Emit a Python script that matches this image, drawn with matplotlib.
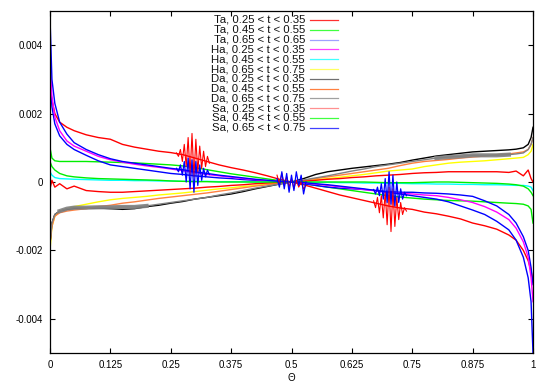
"""
Anisotropy curves vs Theta for Ta / Ha / Da / Sa in three t-windows
(gnuplot-like look). Values in units of 1e-3, read off the reference.

Output: out.png
"""

import matplotlib
matplotlib.use("Agg")
import matplotlib.pyplot as plt
import numpy as np
from matplotlib.lines import Line2D

plt.rcParams["font.family"] = ["Liberation Sans", "DejaVu Sans"]

SCALE = 1e-3

THETA = [0, 0.004, 0.01, 0.02, 0.035, 0.05, 0.075, 0.1,
         0.125, 0.15, 0.175, 0.2, 0.225, 0.25, 0.275, 0.3, 0.325, 0.35, 0.375, 0.4, 0.425, 0.45, 0.475,
         0.5,
         0.525, 0.55, 0.575, 0.6, 0.625, 0.65, 0.675, 0.7, 0.725, 0.75, 0.775, 0.8, 0.825, 0.85, 0.875, 0.9,
         0.925, 0.95, 0.965, 0.98, 0.99, 0.996, 1]

TA_25 = [2.8, 2.4, 2.0, 1.75, 1.6, 1.5, 1.38, 1.3,
         1.25, 1.1, 1.02, 0.96, 0.9, 0.86, 0.8, 0.7, 0.6, 0.5, 0.42, 0.35, 0.27, 0.18, 0.08,
         0.0,
         -0.08, -0.18, -0.28, -0.38, -0.46, -0.54, -0.62, -0.7, -0.76, -0.8, -0.88, -0.93, -1.0, -1.08, -1.2, -1.28,
         -1.38, -1.55, -1.7, -2.0, -2.3, -2.6, -2.9]
TA_45 = [1.0, 0.7, 0.62, 0.6, 0.6, 0.6, 0.6, 0.59,
         0.58, 0.57, 0.56, 0.54, 0.52, 0.5, 0.47, 0.42, 0.36, 0.3, 0.24, 0.19, 0.14, 0.09, 0.04,
         0.0,
         -0.05, -0.1, -0.15, -0.2, -0.25, -0.3, -0.35, -0.4, -0.44, -0.47, -0.5, -0.52, -0.54, -0.55, -0.56, -0.58,
         -0.6, -0.62, -0.63, -0.65, -0.7, -0.8, -1.2]
TA_65 = [3.0, 2.2, 1.7, 1.35, 1.1, 0.95, 0.78, 0.62,
         0.5, 0.45, 0.4, 0.35, 0.3, 0.25, 0.22, 0.18, 0.15, 0.12, 0.1, 0.07, 0.05, 0.03, 0.01,
         0.0,
         -0.05, -0.1, -0.15, -0.18, -0.2, -0.22, -0.25, -0.28, -0.3, -0.3, -0.32, -0.33, -0.35, -0.38, -0.42, -0.55,
         -0.7, -0.95, -1.2, -1.6, -2.0, -2.5, -3.0]
HA_25 = [3.5, 2.5, 1.9, 1.5, 1.2, 1.05, 0.9, 0.75,
         0.65, 0.58, 0.52, 0.47, 0.43, 0.38, 0.33, 0.28, 0.22, 0.18, 0.14, 0.1, 0.07, 0.04, 0.02,
         0.0,
         -0.03, -0.06, -0.1, -0.14, -0.18, -0.22, -0.26, -0.3, -0.33, -0.35, -0.38, -0.4, -0.45, -0.52, -0.6, -0.72,
         -0.88, -1.1, -1.35, -1.75, -2.2, -2.8, -3.5]
HA_45 = [0.3, 0.2, 0.13, 0.1, 0.09, 0.08, 0.07, 0.06,
         0.05, 0.05, 0.04, 0.04, 0.03, 0.03, 0.02, 0.02, 0.02, 0.01, 0.01, 0.01, 0.0, 0.0, 0.0,
         0.0,
         0.0, -0.01, -0.01, -0.02, -0.02, -0.03, -0.03, -0.04, -0.04, -0.05, -0.05, -0.06, -0.06, -0.07, -0.07, -0.08,
         -0.08, -0.09, -0.1, -0.1, -0.12, -0.15, -0.25]
HA_65 = [-2.0, -1.3, -1.0, -0.85, -0.78, -0.72, -0.65, -0.58,
         -0.52, -0.48, -0.45, -0.42, -0.38, -0.35, -0.32, -0.28, -0.24, -0.2, -0.17, -0.13, -0.1, -0.06, -0.03,
         0.0,
         0.03, 0.07, 0.1, 0.14, 0.18, 0.22, 0.27, 0.32, 0.35, 0.38, 0.45, 0.5, 0.55, 0.58, 0.6, 0.62,
         0.65, 0.68, 0.7, 0.72, 0.8, 0.9, 1.1]
DA_25 = [-1.8, -1.2, -0.95, -0.85, -0.8, -0.78, -0.77, -0.76,
         -0.78, -0.8, -0.78, -0.72, -0.68, -0.62, -0.57, -0.5, -0.45, -0.4, -0.35, -0.28, -0.2, -0.13, -0.06,
         0.0,
         0.1, 0.22, 0.3, 0.35, 0.4, 0.44, 0.48, 0.52, 0.57, 0.64, 0.7, 0.76, 0.8, 0.84, 0.88, 0.9,
         0.92, 0.94, 0.96, 1.0, 1.1, 1.3, 1.6]
DA_45 = [-1.8, -1.3, -1.0, -0.9, -0.85, -0.82, -0.78, -0.72,
         -0.68, -0.62, -0.58, -0.53, -0.48, -0.44, -0.4, -0.36, -0.32, -0.27, -0.22, -0.17, -0.12, -0.08, -0.04,
         0.0,
         0.05, 0.1, 0.15, 0.2, 0.25, 0.3, 0.35, 0.4, 0.48, 0.55, 0.6, 0.63, 0.66, 0.7, 0.73, 0.76,
         0.8, 0.82, 0.85, 0.88, 0.95, 1.1, 1.3]
DA_65 = [-1.8, -1.2, -0.95, -0.85, -0.78, -0.75, -0.75, -0.74,
         -0.74, -0.73, -0.73, -0.7, -0.65, -0.6, -0.55, -0.5, -0.45, -0.38, -0.32, -0.25, -0.18, -0.12, -0.06,
         0.0,
         0.06, 0.12, 0.18, 0.25, 0.32, 0.38, 0.45, 0.5, 0.55, 0.6, 0.65, 0.7, 0.73, 0.75, 0.78, 0.78,
         0.78, 0.8, 0.82, 0.85, 0.95, 1.1, 1.3]
SA_25 = [-0.2, 0.05, -0.15, -0.05, -0.2, -0.12, -0.25, -0.28,
         -0.3, -0.3, -0.28, -0.26, -0.24, -0.22, -0.2, -0.18, -0.15, -0.13, -0.1, -0.08, -0.05, -0.03, -0.01,
         0.0,
         0.02, 0.05, 0.08, 0.1, 0.13, 0.15, 0.18, 0.2, 0.22, 0.25, 0.27, 0.28, 0.3, 0.3, 0.3, 0.3,
         0.3, 0.28, 0.32, 0.18, 0.35, 0.1, 0.0]
SA_45 = [0.6, 0.45, 0.35, 0.25, 0.18, 0.15, 0.12, 0.1,
         0.09, 0.08, 0.07, 0.06, 0.05, 0.03, 0.02, 0.01, 0.01, 0.0, 0.0, 0.0, 0.0, 0.0, 0.0,
         0.0,
         0.0, 0.0, 0.0, 0.0, 0.0, 0.0, -0.01, -0.02, -0.02, -0.02, -0.01, 0.0, 0.0, -0.01, -0.02, -0.03,
         -0.04, -0.06, -0.08, -0.12, -0.2, -0.3, -0.4]
SA_65 = [4.8, 3.0, 2.3, 1.75, 1.4, 1.15, 0.95, 0.8,
         0.68, 0.6, 0.55, 0.5, 0.45, 0.4, 0.36, 0.3, 0.25, 0.2, 0.16, 0.12, 0.08, 0.05, 0.02,
         0.0,
         -0.02, -0.05, -0.08, -0.12, -0.16, -0.2, -0.25, -0.3, -0.35, -0.4, -0.45, -0.5, -0.58, -0.7, -0.82, -0.95,
         -1.15, -1.4, -1.7, -2.2, -2.8, -3.5, -5.0]

# oscillating bursts
BURST_THETA_L = [0.262, 0.266, 0.270, 0.274, 0.278, 0.282, 0.286, 0.290, 0.294,
                 0.298, 0.302, 0.306, 0.310, 0.314, 0.318, 0.322, 0.326, 0.330]
TA_25_BURST_L = [0.85, 0.75, 0.95, 0.6, 1.1, 0.45, 1.3, 0.2, 1.42,
                 0.15, 1.25, 0.3, 1.05, 0.4, 0.9, 0.45, 0.75, 0.55]
SA_65_BURST_L = [0.4, 0.3, 0.5, 0.2, 0.6, 0.0, 0.7, -0.2, 0.65,
                 -0.3, 0.6, -0.1, 0.5, 0.05, 0.4, 0.15, 0.35, 0.22]
BURST_THETA_R = [0.670, 0.674, 0.678, 0.682, 0.686, 0.690, 0.694, 0.698, 0.702,
                 0.706, 0.710, 0.714, 0.718, 0.722, 0.726, 0.730, 0.734, 0.738]
TA_25_BURST_R = [-0.55, -0.75, -0.45, -0.9, -0.4, -1.05, -0.3, -1.25, -0.15,
                 -1.45, -0.2, -1.3, -0.45, -1.1, -0.6, -0.95, -0.75, -0.85]
SA_65_BURST_R = [-0.22, -0.35, -0.15, -0.4, -0.05, -0.5, 0.1, -0.6, 0.3,
                 -0.65, 0.2, -0.7, 0.0, -0.6, -0.2, -0.5, -0.3, -0.4]
MID_THETA = [0.47, 0.475, 0.48, 0.485, 0.49, 0.495, 0.5, 0.505, 0.51, 0.515, 0.52, 0.525, 0.53]
SA_65_MID = [0.1, -0.15, 0.3, -0.2, 0.25, -0.3, 0.2, -0.25, 0.3, -0.1, 0.2, -0.35, 0.0]
TA_25_MID = [0.2, -0.05, 0.25, -0.1, 0.15, -0.15, 0.1, -0.2, 0.05, -0.15, 0.0, -0.2, -0.1]

LABELS = ["Ta, 0.25 < t < 0.35", "Ta, 0.45 < t < 0.55", "Ta, 0.65 < t < 0.65",
          "Ha, 0.25 < t < 0.35", "Ha, 0.45 < t < 0.55", "Ha, 0.65 < t < 0.75",
          "Da, 0.25 < t < 0.35", "Da, 0.45 < t < 0.55", "Da, 0.65 < t < 0.75",
          "Sa, 0.25 < t < 0.35", "Sa, 0.45 < t < 0.55", "Sa, 0.65 < t < 0.75"]
SERIES = [TA_25, TA_45, TA_65, HA_25, HA_45, HA_65, DA_25, DA_45, DA_65, SA_25, SA_45, SA_65]
COLORS = ["#ff0000", "#00ee00", "#0000ff", "#ff00ff", "#00ffff", "#ffff00",
          "#000000", "#ff8040", "#808080", "#ff0000", "#00ee00", "#0000ff"]
LEGEND_COLORS = ["#ff3030", "#40ff40", "#a0a0ff", "#ff40ff", "#40ffff", "#ffff60",
                 "#707070", "#ff8040", "#a0a0a0", "#ff9090", "#40ff40", "#4040ff"]

XTICKS = [0, 0.125, 0.25, 0.375, 0.5, 0.625, 0.75, 0.875, 1]
XTICK_LABELS = ["0", "0.125", "0.25", "0.375", "0.5", "0.625", "0.75", "0.875", "1"]
YTICKS = [-0.004, -0.002, 0, 0.002, 0.004]
YTICK_LABELS = ["-0.004", "-0.002", "0", "0.002", "0.004"]

W, H = 550, 385

fig = plt.figure(figsize=(W / 100, H / 100), dpi=100, facecolor="white")
ax = fig.add_axes([50 / W, 32 / H, 483 / W, 342 / H])

th = np.array(THETA)
for vals, col in zip(SERIES, COLORS):
    ax.plot(th, np.array(vals) * SCALE, color=col, lw=1.0)
    if vals is DA_65:
        # the gray curve is a thick noisy band on both flanks
        ax.plot(th[3:12], np.array(vals[3:12]) * SCALE, color=col, lw=3.0, alpha=0.9)
        ax.plot(th[35:42], np.array(vals[35:42]) * SCALE, color=col, lw=3.0, alpha=0.9)

ax.plot(BURST_THETA_L, np.array(TA_25_BURST_L) * SCALE, color="#ff0000", lw=0.8)
ax.plot(BURST_THETA_R, np.array(TA_25_BURST_R) * SCALE, color="#ff0000", lw=0.8)
ax.plot(MID_THETA, np.array(TA_25_MID) * SCALE, color="#ff0000", lw=0.8)
ax.plot(BURST_THETA_L, np.array(SA_65_BURST_L) * SCALE, color="#0000ff", lw=0.9)
ax.plot(BURST_THETA_R, np.array(SA_65_BURST_R) * SCALE, color="#0000ff", lw=0.9)
ax.plot(MID_THETA, np.array(SA_65_MID) * SCALE, color="#0000ff", lw=0.9)

ax.set_xlim(0, 1)
ax.set_ylim(-0.005, 0.005)
ax.set_xticks(XTICKS)
ax.set_xticklabels(XTICK_LABELS)
ax.set_yticks(YTICKS)
ax.set_yticklabels(YTICK_LABELS)
ax.tick_params(direction="in", top=True, right=True, length=3.5, width=0.8,
               labelsize=7, pad=5)
for sp in ax.spines.values():
    sp.set_linewidth(0.9)
ax.set_xlabel("Θ", fontsize=7, labelpad=2)

# gnuplot-style key, top centre
for i, (lab, col) in enumerate(zip(LABELS, LEGEND_COLORS)):
    y = 1 - (20 + i * 9.8) / H
    fig.text(305 / W, y, lab, ha="right", va="center", fontsize=8.2, color="#111")
    fig.add_artist(Line2D([310 / W, 338 / W], [y, y], color=col, lw=0.9,
                          transform=fig.transFigure))

fig.savefig("out.png", dpi=100, facecolor="white")
